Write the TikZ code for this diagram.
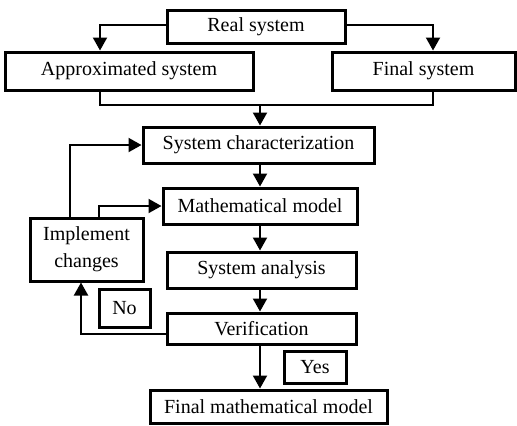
\documentclass[tikz,border=0pt]{standalone}
\usepackage{fontspec}
\setmainfont{Liberation Serif}
\usetikzlibrary{arrows.meta, positioning}

\begin{document}
\begin{tikzpicture}[
  x=0.5pt, y=-0.5pt,
  stepbox/.style={draw, line width=1.5pt, inner sep=0pt,
    align=center, font=\fontsize{10}{13.5}\selectfont},
  tagbox/.style={draw, line width=1.5pt, inner sep=0pt,
    font=\fontsize{10}{12}\selectfont},
  arr/.style={-{Triangle[width=7pt,length=6.5pt]}, line width=1pt},
  line/.style={line width=1pt},
]
\useasboundingbox (0,0) rectangle (517,425);
% top row
\node[stepbox, minimum width=89pt, minimum height=16.5pt] (real) at (256,26.5) {Real system};
\node[stepbox, minimum width=124pt, minimum height=19pt] (approx) at (129,71) {Approximated system};
\node[stepbox, minimum width=91.5pt, minimum height=19pt] (final) at (423.5,71) {Final system};
\draw[arr] ([yshift=1pt]real.west) -| ([xshift=-14.5pt]approx.north);
\draw[arr] ([yshift=1pt]real.east) -| ([xshift=4.75pt]final.north);
% merge
\coordinate (join) at (260,105);
\draw[line] ([xshift=-14.5pt]approx.south) |- (join);
\draw[line] ([xshift=4.75pt]final.south) |- (join);
% main column
\node[stepbox, minimum width=115.5pt, minimum height=18pt] (char) at (258.5,145) {System characterization};
\node[stepbox, minimum width=97pt, minimum height=18pt] (math) at (260,206) {Mathematical model};
\node[stepbox, minimum width=94.5pt, minimum height=18pt] (analysis) at (261.5,270) {System analysis};
\node[stepbox, minimum width=94.5pt, minimum height=15.5pt] (verif) at (261.5,328.5) {Verification};
\node[stepbox, minimum width=118.5pt, minimum height=16.5pt] (fmm) at (268.5,406.5) {Final mathematical model};
\draw[arr] (join) -- (char.north -| join);
\draw[arr] (char.south -| join) -- (math.north -| join);
\draw[arr] (math.south -| join) -- (analysis.north -| join);
\draw[arr] (analysis.south -| join) -- (verif.north -| join);
\draw[arr] (verif.south -| join) -- (fmm.north -| join);
% feedback loop
\node[stepbox, minimum width=56.5pt, minimum height=31.5pt] (impl) at (86.5,249.5) {Implement\\changes};
\draw[arr] ([xshift=-8.25pt]impl.north) |- (char.west);
\draw[arr] ([xshift=6.25pt]impl.north) |- (math.west);
\draw[arr] ([yshift=-2.75pt]verif.west) -| ([xshift=-2.75pt]impl.south);
% decisions
\node[tagbox, minimum width=25.5pt, minimum height=19pt] (no) at (124.5,308) {No};
\node[tagbox, minimum width=31pt, minimum height=16pt] (yes) at (315,367) {Yes};
\end{tikzpicture}
\end{document}
